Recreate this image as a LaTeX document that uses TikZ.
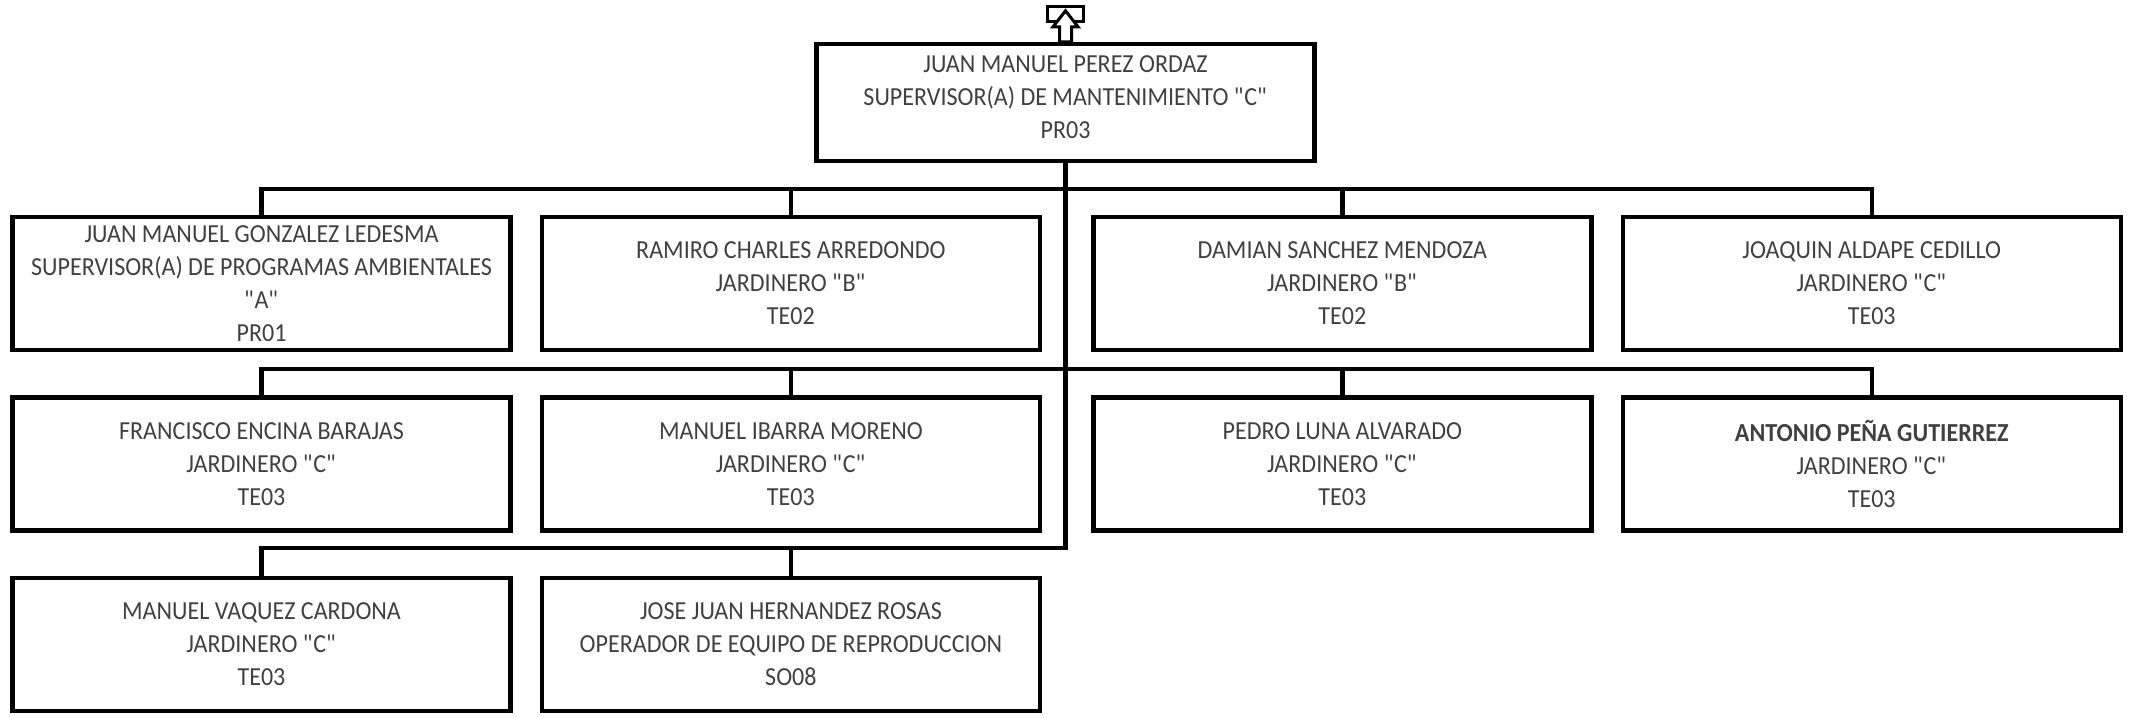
\documentclass[tikz,border=0pt]{standalone}
\usepackage{fontspec}
\setmainfont{Carlito}[FakeStretch=0.925]
\usetikzlibrary{positioning}
\newcommand{\qt}[1]{\textquotedbl#1\textquotedbl}

\begin{document}
\begin{tikzpicture}[x=0.5pt,y=-0.5pt,
node distance=21.5pt and 13.5pt,
  pnode/.style={draw,rectangle,line width=2.2pt,inner sep=0pt,minimum width=249pt,minimum height=66.5pt,align=center,text=black!75,font=\fontsize{13}{16.5}\selectfont},
  jnode/.style={pnode,minimum height=58.5pt},
  lnk/.style={line width=2.2pt}
]
\useasboundingbox (0,0) rectangle (2134,717);
\node[jnode] (PO) at (1065.5,102.5) {JUAN MANUEL PEREZ ORDAZ\\SUPERVISOR(A) DE MANTENIMIENTO \qt{C}\\PR03\\[-11pt]\mbox{}};
\node[pnode] (GL) at (261.5,283.5) {JUAN MANUEL GONZALEZ LEDESMA\\SUPERVISOR(A) DE PROGRAMAS AMBIENTALES\\\qt{A}\\PR01};
\node[pnode,right=of GL] (CA) {RAMIRO CHARLES ARREDONDO\\JARDINERO \qt{B}\\TE02};
\node[pnode,right=24.5pt of CA] (SM) {DAMIAN SANCHEZ MENDOZA\\JARDINERO \qt{B}\\TE02};
\node[pnode,right=of SM] (AC) {JOAQUIN ALDAPE CEDILLO\\JARDINERO \qt{C}\\TE03};
\node[pnode,below=of GL] (EB) {FRANCISCO ENCINA BARAJAS\\JARDINERO \qt{C}\\TE03};
\node[pnode,below=of CA] (IM) {MANUEL IBARRA MORENO\\JARDINERO \qt{C}\\TE03};
\node[pnode,below=of SM] (LA) {PEDRO LUNA ALVARADO\\JARDINERO \qt{C}\\TE03};
\node[pnode,below=of AC] (PG) {\textbf{ANTONIO PEÑA GUTIERREZ}\\JARDINERO \qt{C}\\TE03};
\node[pnode,below=of EB] (VC) {MANUEL VAQUEZ CARDONA\\JARDINERO \qt{C}\\TE03};
\node[pnode,below=of IM] (HR) {JOSE JUAN HERNANDEZ ROSAS\\OPERADOR DE EQUIPO DE REPRODUCCION\\SO08};
\coordinate (N1) at (0,189);
\coordinate (N2) at (0,369);
\coordinate (N3) at (0,548);
\draw[lnk] (GL.north) |- (AC.north |- N1) -- (AC.north);
\draw[lnk] (EB.north) |- (PG.north |- N2) -- (PG.north);
\foreach \n in {CA,SM}
  \draw[lnk] (\n.north) -- (\n.north |- N1);
\foreach \n in {IM,LA}
  \draw[lnk] (\n.north) -- (\n.north |- N2);
\draw[lnk] (PO.south) |- (VC.north |- N3) -- (VC.north);
\draw[lnk] (HR.north) -- (HR.north |- N3);
\begin{scope}[shift={(PO.north)}]
\draw[line width=1.5pt] (-18,-35.5) rectangle (18,-20.5);
\draw[line width=1.5pt,fill=white] (-6,0) -- (-6,-15) -- (-12.5,-15) -- (0,-31) -- (12.5,-15) -- (6,-15) -- (6,0) -- cycle;
\end{scope}
\end{tikzpicture}
\end{document}
